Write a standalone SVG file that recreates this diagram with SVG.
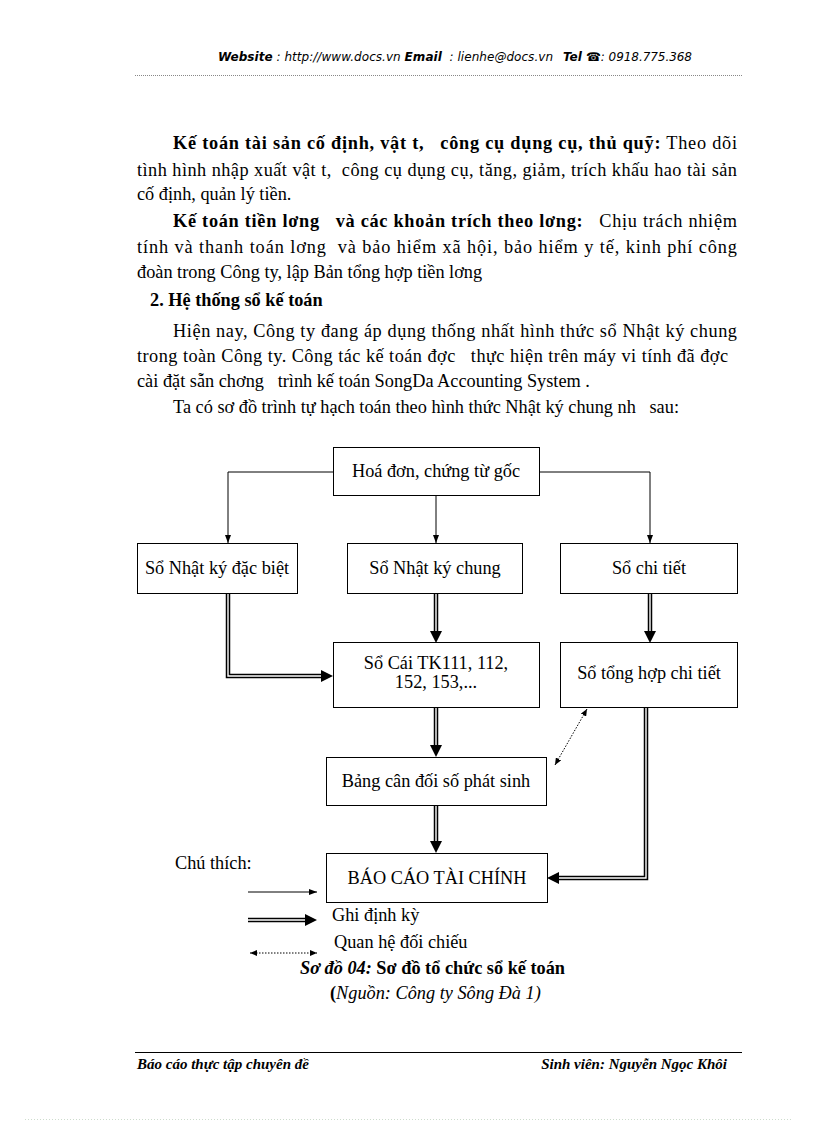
<svg xmlns="http://www.w3.org/2000/svg" width="816" height="1123" viewBox="0 0 816 1123">
<style>
text{font-family:"Liberation Serif","Times New Roman",serif;fill:#000;white-space:pre}
.p{font-size:18.3px}
.b{font-weight:bold}
.i{font-style:italic}
.hd{font-family:"DejaVu Sans","Verdana",sans-serif;font-size:12px;font-style:italic}
.ft{font-size:15px;font-weight:bold;font-style:italic}
.box{fill:#fff;stroke:#000;stroke-width:1}
.lbl{font-size:18.3px;text-anchor:middle}
.s{fill:none;stroke:#000;stroke-width:1}
.do{fill:none;stroke:#000;stroke-width:4.5}
.di{fill:none;stroke:#fff;stroke-width:1.4}
.dt{fill:none;stroke:#000;stroke-width:1;stroke-dasharray:1.5 1.5}
</style>
<defs>
<marker id="ah" viewBox="0 0 8 6" markerWidth="8" markerHeight="6" refX="8" refY="3" orient="auto" markerUnits="userSpaceOnUse"><path d="M0,0 L8,3 L0,6 z" fill="#000"/></marker>
<marker id="dh" viewBox="0 0 12 12" markerWidth="12" markerHeight="12" refX="0" refY="6" orient="auto" markerUnits="userSpaceOnUse"><path d="M0,0 L12,6 L0,12 z" fill="#000"/></marker>
<marker id="th" viewBox="0 0 7 6" markerWidth="7" markerHeight="6" refX="7" refY="3" orient="auto-start-reverse" markerUnits="userSpaceOnUse"><path d="M0,0 L7,3 L0,6 z" fill="#000"/></marker>
</defs>
<rect width="816" height="1123" fill="#fff"/>

<g id="header">
<text class="hd" x="218" y="61" textLength="335"><tspan font-weight="bold">Website</tspan> : http://www.docs.vn <tspan font-weight="bold">Email</tspan>  : lienhe@docs.vn</text>
<text class="hd" x="563" y="61" textLength="129"><tspan font-weight="bold">Tel </tspan><tspan font-weight="bold" font-style="normal">☎</tspan>: 0918.775.368</text>
<line x1="135" y1="75.5" x2="742" y2="75.5" stroke="#888" stroke-width="1" stroke-dasharray="1 1"/>
</g>

<g id="body">
<text class="p" x="173" y="149" textLength="564"><tspan class="b">Kế toán tài sản cố định, vật t,   công cụ dụng cụ, thủ quỹ:</tspan> Theo dõi</text>
<text class="p" x="137" y="176" textLength="600">tình hình nhập xuất vật t,  công cụ dụng cụ, tăng, giảm, trích khấu hao tài sản</text>
<text class="p" x="137" y="200">cố định, quản lý tiền.</text>
<text class="p" x="173" y="227" textLength="564"><tspan class="b">Kế toán tiền lơng   và các khoản trích theo lơng:</tspan>   Chịu trách nhiệm</text>
<text class="p" x="137" y="253" textLength="600">tính và thanh toán lơng  và bảo hiểm xã hội, bảo hiểm y tế, kinh phí công</text>
<text class="p" x="137" y="278">đoàn trong Công ty, lập Bản tổng hợp tiền lơng</text>
<text class="p b" x="150" y="306">2. Hệ thống sổ kế toán</text>
<text class="p" x="173" y="337" textLength="564">Hiện nay, Công ty đang áp dụng thống nhất hình thức sổ Nhật ký chung</text>
<text class="p" x="137" y="362" textLength="591">trong toàn Công ty. Công tác kế toán đợc   thực hiện trên máy vi tính đã đợc</text>
<text class="p" x="137" y="387">cài đặt sẵn chơng   trình kế toán SongDa Accounting System .</text>
<text class="p" x="173" y="413">Ta có sơ đồ trình tự hạch toán theo hình thức Nhật ký chung nh   sau:</text>
</g>

<g id="connectors">
<path class="s" d="M333,472 H228 V543" marker-end="url(#ah)"/>
<path class="s" d="M436,495 V543" marker-end="url(#ah)"/>
<path class="s" d="M539,472 H650 V543" marker-end="url(#ah)"/>
<path class="do" d="M228,593 V676 H321" marker-end="url(#dh)"/>
<path class="di" d="M228,593 V676 H321"/>
<path class="do" d="M436,593 V631" marker-end="url(#dh)"/>
<path class="di" d="M436,593 V631"/>
<path class="do" d="M650,593 V631" marker-end="url(#dh)"/>
<path class="di" d="M650,593 V631"/>
<path class="do" d="M436,708 V745" marker-end="url(#dh)"/>
<path class="di" d="M436,708 V745"/>
<path class="do" d="M436,805 V841" marker-end="url(#dh)"/>
<path class="di" d="M436,805 V841"/>
<path class="do" d="M646,708 V878 H559" marker-end="url(#dh)"/>
<path class="di" d="M646,708 V878 H559"/>
<path class="dt" d="M587,709 L555,765" marker-start="url(#th)" marker-end="url(#th)"/>
</g>

<g id="n-hoadon"><rect class="box" x="333.5" y="447.5" width="206" height="48"/><text class="lbl" x="436" y="477">Hoá đơn, chứng từ gốc</text></g>
<g id="n-nkdb"><rect class="box" x="137.5" y="543.5" width="160" height="50"/><text class="lbl" x="217" y="574">Sổ Nhật ký đặc biệt</text></g>
<g id="n-nkc"><rect class="box" x="347.5" y="543.5" width="175" height="50"/><text class="lbl" x="435" y="574">Sổ Nhật ký chung</text></g>
<g id="n-sct"><rect class="box" x="560.5" y="543.5" width="177" height="50"/><text class="lbl" x="649" y="574">Sổ chi tiết</text></g>
<g id="n-socai"><rect class="box" x="333.5" y="642.5" width="206" height="65"/><text class="lbl" x="436" y="669" font-size="17.5px">Sổ Cái TK111, 112,</text><text class="lbl" x="436" y="688" font-size="17.5px">152, 153,...</text></g>
<g id="n-thct"><rect class="box" x="560.5" y="642.5" width="177" height="65"/><text class="lbl" x="649" y="679">Sổ tổng hợp chi tiết</text></g>
<g id="n-bcd"><rect class="box" x="326.5" y="757.5" width="220" height="48"/><text class="lbl" x="436" y="787">Bảng cân đối số phát sinh</text></g>
<g id="n-bctc"><rect class="box" x="326.5" y="853.5" width="221" height="49"/><text class="lbl" x="437" y="884" font-size="16px">BÁO CÁO TÀI CHÍNH</text></g>

<g id="legend">
<text class="p" x="175" y="869">Chú thích:</text>
<path class="s" d="M248,892 H317" marker-end="url(#ah)"/>
<path class="do" d="M248,920 H305" marker-end="url(#dh)"/>
<path class="di" d="M248,920 H305"/>
<text class="p" x="332" y="921">Ghi định kỳ</text>
<text class="p" x="334" y="948">Quan hệ đối chiếu</text>
<path class="dt" d="M250,953 H317" marker-start="url(#th)" marker-end="url(#th)"/>
</g>

<g id="caption">
<text class="p b" x="300" y="974"><tspan class="i">Sơ đồ 04:</tspan> Sơ đồ tổ chức sổ kế toán</text>
<text class="p i" x="330" y="999"><tspan class="b" font-style="normal">(</tspan>Nguồn: Công ty Sông Đà 1)</text>
</g>

<g id="footer">
<line x1="135" y1="1052.5" x2="742" y2="1052.5" stroke="#000" stroke-width="1"/>
<text class="ft" x="137" y="1069">Báo cáo thực tập chuyên đề</text>
<text class="ft" x="727" y="1069" text-anchor="end">Sinh viên: Nguyễn Ngọc Khôi</text>
<line x1="25" y1="1119.5" x2="792" y2="1119.5" stroke="#cddccd" stroke-width="1" stroke-dasharray="1 2"/>
</g>
</svg>
